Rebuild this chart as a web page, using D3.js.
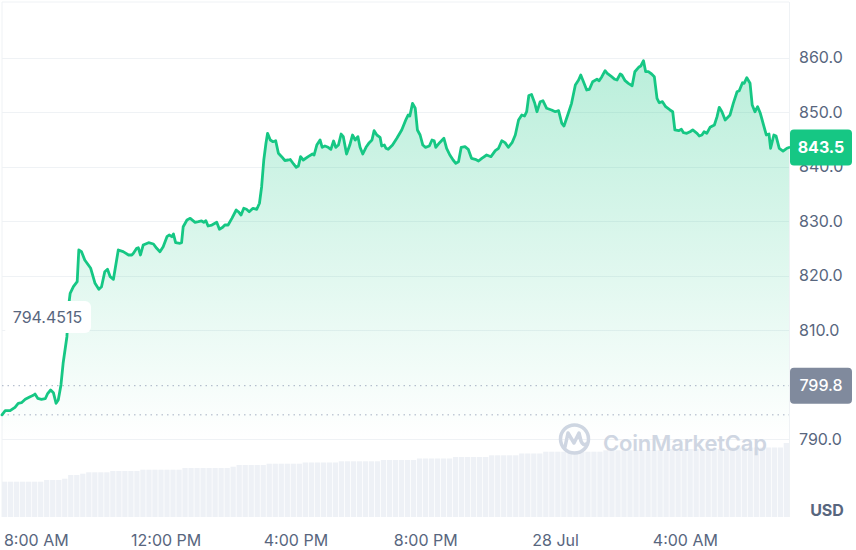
<!DOCTYPE html>
<html>
<head>
<meta charset="utf-8">
<script src="https://cdn.jsdelivr.net/npm/d3@7"></script>
<style>
  html, body { margin: 0; padding: 0; background: #fff; }
  svg { display: block; font-family: Inter, "Noto Sans", sans-serif; }
</style>
</head>
<body>
<svg id="chart" width="856" height="550"></svg>
<script>
// ---- data (minutes after 06:57:30, 27 Jul) ----
const minutes = [0,6,15,24,30,36,43,52,58,61,66,73,80,84,90,95,100,104,109,113,120,123,126,132,139,142,147,153,164,172,179,184,190,195,200,206,215,224,234,240,243,249,252,256,261,271,280,286,292,298,305,309,314,317,321,329,332,335,342,348,357,363,369,373,377,381,388,397,402,408,412,418,425,433,437,442,447,452,457,464,471,476,480,484,488,491,496,501,506,511,517,523,529,533,539,544,548,552,557,566,574,577,582,588,592,597,603,608,613,617,622,627,631,637,643,648,653,658,662,667,673,679,684,688,693,699,702,707,710,714,722,730,739,747,751,754,759,764,768,773,778,783,790,795,799,802,809,817,822,828,834,839,844,849,856,862,868,875,881,887,896,904,912,918,924,930,936,943,949,955,961,966,970,974,979,985,989,995,1000,1007,1016,1023,1029,1035,1039,1047,1053,1060,1066,1070,1075,1081,1086,1092,1100,1104,1109,1115,1119,1127,1133,1137,1143,1146,1152,1158,1165,1170,1177,1181,1186,1190,1195,1201,1206,1211,1215,1221,1227,1235,1240,1244,1251,1256,1260,1266,1272,1277,1285,1289,1294,1298,1303,1309,1317,1322,1326,1331,1337,1346,1352,1359,1363,1369,1372,1377,1383,1387,1392,1397,1402,1408,1413,1418,1421,1427,1431,1437,1444,1451,1455];
const prices = [794.45,795.21,795.21,795.83,796.57,796.68,797.30,797.78,798.04,798.28,797.49,797.30,797.41,798.28,799.01,798.51,796.57,797.17,799.93,803.91,808.79,814.29,816.75,817.96,818.88,824.70,824.39,822.86,821.34,818.59,817.49,817.96,820.72,821.16,819.80,819.32,824.70,824.39,823.78,823.78,824.09,825.01,825.12,823.78,825.61,826.04,825.80,825.01,824.39,825.30,827.14,827.45,827.14,827.63,826.04,825.93,826.04,828.97,830.20,830.51,829.78,829.89,830.02,829.78,830.07,829.10,829.28,829.78,828.50,828.86,829.28,829.28,830.51,832.04,831.72,831.12,832.35,832.17,831.72,832.35,832.17,833.27,836.31,841.21,844.28,846.11,844.88,844.57,844.75,842.44,841.82,841.12,841.21,841.30,840.48,839.87,840.11,841.82,841.21,841.82,842.31,842.13,843.96,844.88,843.54,843.78,843.54,843.17,844.70,843.54,843.96,845.98,845.49,842.31,843.96,845.80,844.88,845.49,843.54,842.31,843.54,844.39,844.88,846.59,845.80,845.38,843.78,843.96,843.36,843.17,843.96,845.19,846.72,848.68,849.47,849.28,851.61,850.70,846.72,845.80,843.96,843.54,843.78,844.88,844.75,843.54,844.39,845.19,843.36,842.13,841.21,840.61,840.90,843.54,843.65,843.17,841.52,841.34,841.03,841.52,842.13,841.82,842.92,843.36,844.75,844.39,843.54,844.39,845.80,848.55,849.47,849.28,850.07,853.05,853.23,851.61,850.07,851.91,852.09,850.70,850.39,850.07,850.26,847.94,847.45,849.78,851.61,854.97,855.89,856.81,855.58,854.06,854.18,855.58,856.02,855.76,856.50,857.60,857.12,856.50,856.02,855.89,856.99,856.81,855.76,855.28,854.84,857.41,858.22,858.46,859.43,857.41,857.41,856.99,856.50,852.53,851.72,851.91,850.99,850.39,850.07,846.72,846.59,846.84,846.22,846.11,846.40,846.72,846.11,845.62,845.80,846.40,846.11,847.21,847.63,849.16,850.88,850.07,848.55,849.47,851.61,853.74,853.93,855.39,855.28,856.31,855.28,851.30,850.07,850.99,849.78,847.63,845.80,845.98,843.36,845.80,845.62,843.36,842.86,843.36,843.5];
// volume bars (relative units), one per ~11 minutes
const volumes = [35.3,35.3,35.3,35.3,35.3,35.3,35.3,37,37,37,38.3,42,42,43.3,44.7,44.7,44.7,44.7,46,46,46,46,46,47.3,47.3,47.3,47.3,47.3,47.3,47.3,49,49,49,49,49,49,49,49,50.3,52,52,52,52,52,53.3,53.3,53.3,53.3,53.3,53.3,54.5,54.5,54.5,54.5,54.5,54.5,55.7,55.7,55.7,55.7,55.7,55.7,55.7,57,57,57,57,57,57,58.5,58.5,58.5,58.5,58.5,58.5,60,60,60,60,60,60,61.7,61.7,61.7,61.7,61.7,63.5,63.5,63.5,63.5,65.3,65.3,65.3,65.3,65.3,65.3,65.3,65.3,65.3,65.3,66.7,66.7,66.7,66.7,66.7,66.7,66.7,66.7,66.7,66.7,66.7,68,68,68,68,68,68,68,68,68,68,69.5,69.5,69.5,69.5,69.5,69.5,69.5,69.5,69.5,74];
const yTicks = [790, 800, 810, 820, 830, 840, 850, 860];
const lowLabel = "794.4515";
const lowValue = 794.4515;
const openValue = 799.8;
const lastValue = 843.5;
const currency = "USD";

// ---- scales ----
const start = new Date(2023, 6, 27, 6, 57, 30);
const toDate = m => new Date(start.getTime() + m * 60000);
const end = toDate(minutes[minutes.length - 1]);
const data = minutes.map((m, i) => ({ t: toDate(m), v: prices[i] }));

const left = 2, right = 789;
const x = d3.scaleTime().domain([start, end]).range([left, right]);
const y = d3.scaleLinear().domain([790, 860]).range([439.1, 57.6]);
const volBand = d3.scaleBand().domain(d3.range(volumes.length)).range([left, right]).paddingInner(0.12);
const yVol = d3.scaleLinear().domain([0, 100]).range([517, 417]);

const svg = d3.select("#chart");
const green = "#16c784";
const textCol = "#58667e";

// frame
svg.append("line").attr("x1", left).attr("x2", right).attr("y1", 2).attr("y2", 2).attr("stroke", "#eff2f5");
svg.append("line").attr("x1", left).attr("x2", left).attr("y1", 2).attr("y2", 517).attr("stroke", "#eff2f5");
svg.append("line").attr("x1", right + 0.5).attr("x2", right + 0.5).attr("y1", 2).attr("y2", 517).attr("stroke", "#eff2f5");

// gridlines
svg.append("g").selectAll("line").data(yTicks.filter(d => d !== 800)).join("line")
  .attr("x1", left).attr("x2", right)
  .attr("y1", d => Math.round(y(d)) + 0.5).attr("y2", d => Math.round(y(d)) + 0.5)
  .attr("stroke", "#eff2f5").attr("stroke-width", 1);

// volume bars
svg.append("g").selectAll("rect").data(volumes).join("rect")
  .attr("x", (d, i) => volBand(i)).attr("width", volBand.bandwidth())
  .attr("y", d => yVol(d)).attr("height", d => yVol(0) - yVol(d))
  .attr("fill", "#eef1f6");

// watermark
const wm = svg.append("g").attr("fill", "none").attr("stroke", "#cfd6e2");
wm.append("circle").attr("cx", 574.5).attr("cy", 439).attr("r", 14).attr("stroke-width", 3.5);
wm.append("path").attr("d", "M565,447 L568,433 L574,443 L579,433 L581,441 Q583,446 586,444")
  .attr("stroke-width", 3.5).attr("stroke-linejoin", "round").attr("stroke-linecap", "round");
svg.append("text").attr("x", 603).attr("y", 451).attr("font-size", 22).attr("font-weight", 600)
  .attr("fill", "#cfd6e2").attr("textLength", 164).text("CoinMarketCap");

// area gradient
const defs = svg.append("defs");
const grad = defs.append("linearGradient").attr("id", "areaGrad")
  .attr("gradientUnits", "userSpaceOnUse").attr("x1", 0).attr("x2", 0)
  .attr("y1", y(860)).attr("y2", y(790));
grad.append("stop").attr("offset", 0).attr("stop-color", green).attr("stop-opacity", 0.3);
grad.append("stop").attr("offset", 1).attr("stop-color", green).attr("stop-opacity", 0.0);

svg.append("path").datum(data)
  .attr("d", d3.area().x(d => x(d.t)).y0(y(790)).y1(d => y(d.v)))
  .attr("fill", "url(#areaGrad)");

// dotted reference lines
[openValue, lowValue].forEach(v => {
  svg.append("line").attr("x1", left).attr("x2", right)
    .attr("y1", y(v)).attr("y2", y(v))
    .attr("stroke", "#a6b0c3").attr("stroke-width", 1).attr("stroke-dasharray", "1.5,4");
});

// price line
svg.append("path").datum(data)
  .attr("d", d3.line().x(d => x(d.t)).y(d => y(d.v)))
  .attr("fill", "none").attr("stroke", green).attr("stroke-width", 2.8)
  .attr("stroke-linejoin", "round").attr("stroke-linecap", "round");

// y axis
const yAxis = svg.append("g").attr("transform", `translate(${right},0)`)
  .call(d3.axisRight(y).tickValues(yTicks).tickFormat(d3.format(".1f")).tickSize(0).tickPadding(10));
yAxis.select(".domain").remove();
yAxis.selectAll("text").attr("font-size", 16).attr("fill", textCol).attr("font-family", "Inter, sans-serif");

// x axis
const fmt = d => (d.getHours() === 0 ? d3.timeFormat("%-d %b")(d) : d3.timeFormat("%-I:%M %p")(d));
const xAxis = svg.append("g").attr("transform", "translate(0,535)")
  .call(d3.axisBottom(x).ticks(d3.timeHour.every(4)).tickFormat(fmt).tickSize(0).tickPadding(0));
xAxis.select(".domain").remove();
xAxis.selectAll("text").attr("font-size", 16).attr("fill", textCol).attr("font-family", "Inter, sans-serif");

// currency
svg.append("text").attr("x", 827).attr("y", 516).attr("text-anchor", "middle")
  .attr("font-size", 16).attr("font-weight", 700).attr("fill", textCol).text(currency);

// badges
function badge(v, fill, txt, weight) {
  const g = svg.append("g").attr("transform", `translate(790,${y(v)})`);
  g.append("rect").attr("x", 0).attr("y", -18).attr("width", 62).attr("height", 36).attr("rx", 4).attr("fill", fill);
  g.append("text").attr("x", 31).attr("y", 0).attr("dy", "0.35em").attr("text-anchor", "middle")
    .attr("font-size", 16).attr("font-weight", weight).attr("fill", "#fff").text(txt);
}
badge(openValue, "#808a9d", d3.format(".1f")(openValue), 500);
badge(lastValue, green, d3.format(".1f")(lastValue), 700);

// low label
const lg = svg.append("g");
lg.append("rect").attr("x", 4).attr("y", 301).attr("width", 87).attr("height", 32).attr("rx", 6).attr("fill", "#fff");
lg.append("text").attr("x", 47.5).attr("y", 317).attr("dy", "0.35em").attr("text-anchor", "middle")
  .attr("font-size", 16).attr("fill", textCol).text(lowLabel);
</script>
</body>
</html>
